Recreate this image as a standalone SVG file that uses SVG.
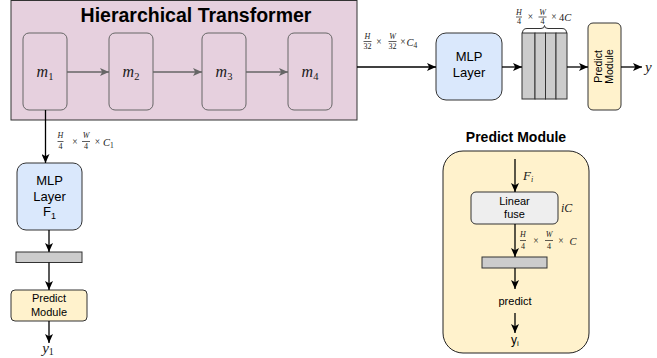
<svg xmlns="http://www.w3.org/2000/svg" width="657" height="358" viewBox="0 0 657 358">
  <style>
    .sans { font-family: "Liberation Sans", Arial, sans-serif; fill: #000; }
    .math { font-family: "Liberation Serif", "Times New Roman", serif; fill: #1a1a1a; }
    .mi { font-style: italic; }
    .edge { fill: none; stroke: #000; stroke-width: 1.3; }
    .edge-gray { fill: none; stroke: #666; stroke-width: 1.5; }
    .frac { stroke: #1a1a1a; stroke-width: 0.7; }
  </style>
  <defs>
    <marker id="arrow" markerUnits="userSpaceOnUse" markerWidth="10" markerHeight="8" refX="9" refY="4" orient="auto">
      <path d="M0,0 L9,4 L0,8 L2.2,4 Z" fill="#000"/>
    </marker>
    <marker id="arrow-gray" markerUnits="userSpaceOnUse" markerWidth="10" markerHeight="8" refX="9" refY="4" orient="auto">
      <path d="M0,0 L9,4 L0,8 L2.2,4 Z" fill="#666"/>
    </marker>
  </defs>

  <!-- Encoder container -->
  <g id="transformer">
    <rect x="11" y="0.5" width="346" height="119.5" fill="#e6d0de" stroke="#333" stroke-width="1"/>
    <text class="sans" x="196" y="22" font-size="19.5" font-weight="bold" text-anchor="middle">Hierarchical Transformer</text>
  </g>
  <g id="m1">
    <rect x="23" y="33" width="44" height="77" rx="6" fill="#e6d0de" stroke="#666" stroke-width="1"/>
    <text class="math" x="45" y="77" font-size="16" text-anchor="middle"><tspan class="mi">m</tspan><tspan font-size="10.5" dy="3">1</tspan></text>
  </g>
  <g id="m2">
    <rect x="109" y="33" width="44" height="77" rx="6" fill="#e6d0de" stroke="#666" stroke-width="1"/>
    <text class="math" x="131" y="77" font-size="16" text-anchor="middle"><tspan class="mi">m</tspan><tspan font-size="10.5" dy="3">2</tspan></text>
  </g>
  <g id="m3">
    <rect x="202" y="33" width="44" height="77" rx="6" fill="#e6d0de" stroke="#666" stroke-width="1"/>
    <text class="math" x="224" y="77" font-size="16" text-anchor="middle"><tspan class="mi">m</tspan><tspan font-size="10.5" dy="3">3</tspan></text>
  </g>
  <g id="m4">
    <rect x="288" y="33" width="44" height="77" rx="6" fill="#e6d0de" stroke="#666" stroke-width="1"/>
    <text class="math" x="310" y="77" font-size="16" text-anchor="middle"><tspan class="mi">m</tspan><tspan font-size="10.5" dy="3">4</tspan></text>
  </g>

  <!-- Top branch -->
  <g id="mlp-top">
    <rect x="436" y="33" width="66" height="67" rx="10" fill="#dae8fc" stroke="#333" stroke-width="1"/>
    <text class="sans" x="469" y="61" font-size="13" text-anchor="middle">MLP</text>
    <text class="sans" x="469" y="77" font-size="13" text-anchor="middle">Layer</text>
  </g>
  <g id="stack">
    <rect x="522" y="33" width="13" height="66" fill="#cccccc" stroke="#333" stroke-width="1"/>
    <rect x="535" y="33" width="10.5" height="66" fill="#cccccc" stroke="#333" stroke-width="1"/>
    <rect x="545.5" y="33" width="10.5" height="66" fill="#cccccc" stroke="#333" stroke-width="1"/>
    <rect x="556" y="33" width="11" height="66" fill="#cccccc" stroke="#333" stroke-width="1"/>
    <path d="M522.5,33 Q522.5,28.5 527,28.5 L541,28.5 Q544.5,28.5 544.5,25.5 Q544.5,28.5 548,28.5 L562,28.5 Q566.5,28.5 566.5,33" fill="none" stroke="#333" stroke-width="1"/>
  </g>
  <g id="predict-top">
    <rect x="588" y="23" width="33" height="87" rx="5" fill="#fff2cc" stroke="#333" stroke-width="1"/>
    <text class="sans" font-size="10.5" text-anchor="middle" transform="translate(604.5,66.5) rotate(-90)"><tspan x="0" y="-3">Predict</tspan><tspan x="0" y="8.5">Module</tspan></text>
  </g>
  <g id="out-y">
    <text class="math mi" x="645" y="72" font-size="15">y</text>
  </g>

  <!-- Left branch -->
  <g id="mlp-f1">
    <rect x="17" y="163" width="65" height="67" rx="9" fill="#dae8fc" stroke="#333" stroke-width="1"/>
    <text class="sans" x="49.5" y="185" font-size="13" text-anchor="middle">MLP</text>
    <text class="sans" x="49.5" y="201" font-size="13" text-anchor="middle">Layer</text>
    <text class="sans" x="49.5" y="216" font-size="13" text-anchor="middle">F<tspan font-size="9" dy="3">1</tspan></text>
  </g>
  <g id="bar-left">
    <rect x="16" y="252" width="66" height="10.5" fill="#cccccc" stroke="#333" stroke-width="1"/>
  </g>
  <g id="predict-left">
    <rect x="11" y="290" width="76" height="31" rx="4" fill="#fff2cc" stroke="#333" stroke-width="1"/>
    <text class="sans" x="49" y="302" font-size="11" text-anchor="middle">Predict</text>
    <text class="sans" x="49" y="315.5" font-size="11" text-anchor="middle">Module</text>
  </g>
  <g id="out-y1">
    <text class="math" x="48" y="353" font-size="15" text-anchor="middle"><tspan class="mi">y</tspan><tspan font-size="10" dy="2">1</tspan></text>
  </g>

  <!-- Predict module detail -->
  <g id="predict-detail">
    <text class="sans" x="516" y="142" font-size="14" font-weight="bold" text-anchor="middle">Predict Module</text>
    <rect x="443" y="151" width="146" height="202" rx="20" fill="#fff2cc" stroke="#222" stroke-width="1"/>
  </g>
  <g id="linear-fuse">
    <rect x="471" y="192" width="87" height="32" rx="5" fill="#eeeeee" stroke="#333" stroke-width="1"/>
    <text class="sans" x="514.5" y="205" font-size="11" text-anchor="middle">Linear</text>
    <text class="sans" x="514.5" y="218" font-size="11" text-anchor="middle">fuse</text>
  </g>
  <g id="bar-detail">
    <rect x="482" y="257" width="65" height="11" fill="#cccccc" stroke="#333" stroke-width="1"/>
  </g>
  <g id="predict-label">
    <text class="sans" x="515" y="305" font-size="11" text-anchor="middle">predict</text>
  </g>
  <g id="out-yi">
    <text class="sans" x="515" y="344" font-size="12" text-anchor="middle">y<tspan font-size="8" dy="2">i</tspan></text>
  </g>

  <!-- Connectors -->
  <g id="connectors">
    <line class="edge-gray" x1="67" y1="72" x2="109" y2="72" marker-end="url(#arrow-gray)"/>
    <line class="edge-gray" x1="153" y1="72" x2="202" y2="72" marker-end="url(#arrow-gray)"/>
    <line class="edge-gray" x1="246" y1="72" x2="288" y2="72" marker-end="url(#arrow-gray)"/>

    <line class="edge" x1="357" y1="67" x2="436" y2="67" marker-end="url(#arrow)"/>
    <line class="edge" x1="502" y1="67" x2="522" y2="67" marker-end="url(#arrow)"/>
    <line class="edge" x1="567" y1="67" x2="588" y2="67" marker-end="url(#arrow)"/>
    <line class="edge" x1="621" y1="67" x2="642" y2="67" marker-end="url(#arrow)"/>

    <line class="edge" x1="45.5" y1="110" x2="45.5" y2="163" marker-end="url(#arrow)"/>
    <line class="edge" x1="49" y1="230" x2="49" y2="252" marker-end="url(#arrow)"/>
    <line class="edge" x1="49" y1="262.5" x2="49" y2="290" marker-end="url(#arrow)"/>
    <line class="edge" x1="49" y1="321" x2="49" y2="343" marker-end="url(#arrow)"/>

    <line class="edge" x1="515" y1="159" x2="515" y2="192" marker-end="url(#arrow)"/>
    <line class="edge" x1="515" y1="224" x2="515" y2="257" marker-end="url(#arrow)"/>
    <line class="edge" x1="515" y1="268" x2="515" y2="289" marker-end="url(#arrow)"/>
    <line class="edge" x1="515" y1="313" x2="515" y2="333" marker-end="url(#arrow)"/>
  </g>

  <!-- Tensor shape labels -->
  <g id="label-c4" class="math">
    <text class="mi" x="367.5" y="38.5" font-size="8" text-anchor="middle">H</text>
    <line class="frac" x1="363.5" y1="41.5" x2="371.5" y2="41.5"/>
    <text x="367.5" y="48.5" font-size="8" text-anchor="middle">32</text>
    <text x="379" y="44.5" font-size="9.5" text-anchor="middle">×</text>
    <text class="mi" x="392.5" y="38.5" font-size="8" text-anchor="middle">W</text>
    <line class="frac" x1="388.5" y1="41.5" x2="396.5" y2="41.5"/>
    <text x="392.5" y="48.5" font-size="8" text-anchor="middle">32</text>
    <text x="403" y="44.5" font-size="9.5" text-anchor="middle">×</text>
    <text x="406.5" y="45.5" font-size="10.5"><tspan class="mi">C</tspan><tspan font-size="7.5" dy="2">4</tspan></text>
  </g>
  <g id="label-4c" class="math">
    <text class="mi" x="519" y="15" font-size="8" text-anchor="middle">H</text>
    <line class="frac" x1="516" y1="17" x2="522" y2="17"/>
    <text x="519" y="23.5" font-size="8" text-anchor="middle">4</text>
    <text x="530.5" y="20" font-size="9.5" text-anchor="middle">×</text>
    <text class="mi" x="542.5" y="15" font-size="8" text-anchor="middle">W</text>
    <line class="frac" x1="538.5" y1="17" x2="546.5" y2="17"/>
    <text x="542.5" y="23.5" font-size="8" text-anchor="middle">4</text>
    <text x="554" y="20" font-size="9.5" text-anchor="middle">×</text>
    <text x="559" y="21" font-size="10.5">4<tspan class="mi">C</tspan></text>
  </g>
  <g id="label-c1" class="math">
    <text class="mi" x="60.5" y="138" font-size="8" text-anchor="middle">H</text>
    <line class="frac" x1="57.5" y1="141.5" x2="63.5" y2="141.5"/>
    <text x="60.5" y="149" font-size="8" text-anchor="middle">4</text>
    <text x="75" y="145" font-size="9.5" text-anchor="middle">×</text>
    <text class="mi" x="86" y="138" font-size="8" text-anchor="middle">W</text>
    <line class="frac" x1="82" y1="141.5" x2="90" y2="141.5"/>
    <text x="86" y="149" font-size="8" text-anchor="middle">4</text>
    <text x="97.5" y="145" font-size="9.5" text-anchor="middle">×</text>
    <text x="103" y="146" font-size="10.5"><tspan class="mi">C</tspan><tspan font-size="7.5" dy="2">1</tspan></text>
  </g>
  <g id="label-c" class="math">
    <text class="mi" x="523" y="237" font-size="8" text-anchor="middle">H</text>
    <line class="frac" x1="520" y1="240.5" x2="526" y2="240.5"/>
    <text x="523" y="249" font-size="8" text-anchor="middle">4</text>
    <text x="536" y="244" font-size="9.5" text-anchor="middle">×</text>
    <text class="mi" x="549" y="237" font-size="8" text-anchor="middle">W</text>
    <line class="frac" x1="545" y1="240.5" x2="553" y2="240.5"/>
    <text x="549" y="249" font-size="8" text-anchor="middle">4</text>
    <text x="561" y="244" font-size="9.5" text-anchor="middle">×</text>
    <text class="mi" x="569.5" y="245" font-size="10.5">C</text>
  </g>
  <g id="label-fi" class="math">
    <text x="523" y="180" font-size="13"><tspan class="mi">F</tspan><tspan class="mi" font-size="8" dy="2">i</tspan></text>
  </g>
  <g id="label-ic" class="math">
    <text class="mi" x="561" y="212" font-size="12">iC</text>
  </g>
</svg>
